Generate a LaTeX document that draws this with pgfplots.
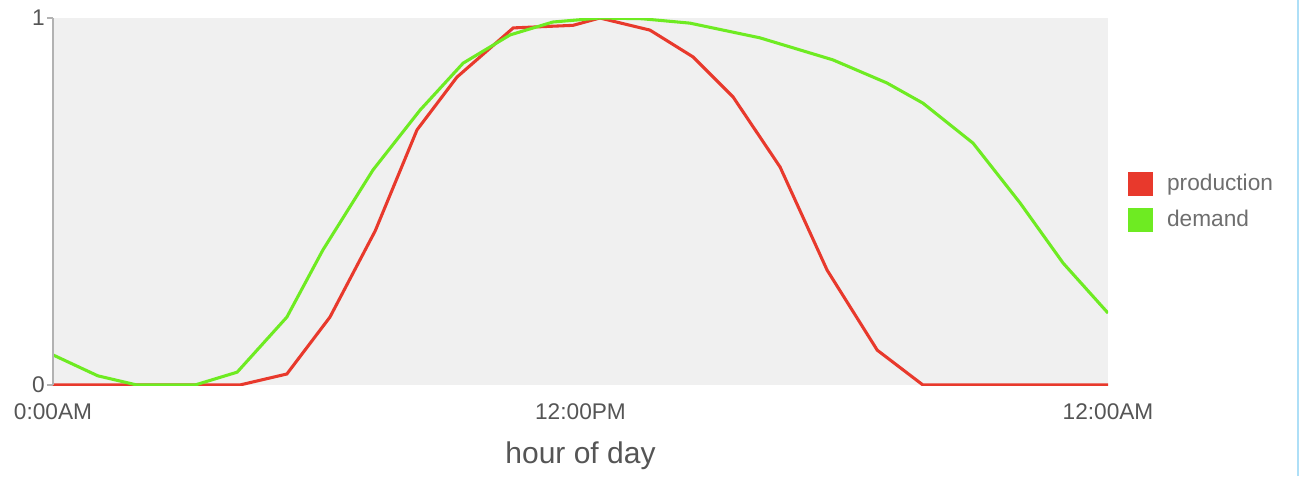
\documentclass[border=0pt]{standalone}
\usepackage{fontspec}
\setmainfont{Liberation Sans}
\usepackage{pgfplots}
\pgfplotsset{compat=1.18}
\definecolor{prodred}{HTML}{E8392C}
\definecolor{demgreen}{HTML}{6EEB22}
\definecolor{plotbg}{HTML}{F0F0F0}
\definecolor{txtgray}{HTML}{555555}
\definecolor{edgeblue}{HTML}{AEDFF7}

\begin{document}
\begin{tikzpicture}[x=0.75pt,y=0.75pt]
\useasboundingbox (-53,-91) rectangle (1246,385);
\begin{axis}[
  name=ax,
  at={(0,0)}, anchor=south west,
  scale only axis,
  width=791.25pt, height=275.25pt,
  xmin=0, xmax=24, ymin=0, ymax=1,
  axis background/.style={fill=plotbg},
  axis line style={draw=none},
  xtick={0,12,24},
  xticklabels={0:00AM,12:00PM,12:00AM},
  x tick style={draw=none},
  ytick={0,1},
  yticklabels={0,1},
  ytick pos=left,
  y tick style={draw=gray!60, line width=1pt},
  tick align=outside,
  major tick length=4.5pt,
  tick label style={font=\fontsize{17}{19}\selectfont, text=txtgray},
  /pgf/number format/assume math mode=true,
  xticklabel style={yshift=-6pt},
  yticklabel style={inner xsep=1.5pt},
  xlabel={hour of day},
  xlabel style={font=\fontsize{22.5}{25}\selectfont, text=txtgray,
    at={(rel axis cs:0.5,0)}, anchor=base, yshift=-59pt},
  legend style={draw=none, fill=none, inner sep=0pt,
    at={(rel axis cs:1,0.5)}, anchor=west, xshift=15pt,
    font=\fontsize{17}{19}\selectfont, text=txtgray!85,
    row sep=9pt,
    nodes={inner xsep=0pt, inner ysep=1pt}},
  legend cell align=left,
  legend image code/.code={\fill[#1, draw=none] (0pt,-9pt) rectangle (18.5pt,9pt); \path (28pt,0pt);},
  clip=true,
]
\addplot[color=prodred, line width=2.3pt] table[x=h, y=v] {
h      v
0      0
4.25   0
5.32   0.03
6.30   0.185
7.33   0.42
8.28   0.695
9.19   0.839
10.47  0.973
11.83  0.98
12.44  1.0
13.58  0.967
14.56  0.894
15.47  0.785
16.54  0.594
17.61  0.313
18.75  0.095
19.79  0
24     0
};
\addlegendentry{production}
\addplot[color=demgreen, line width=2.3pt] table[x=h, y=v] {
h      v
0      0.082
1.02   0.025
1.91   0
3.23   0
4.19   0.035
5.32   0.185
6.14   0.368
7.28   0.586
8.35   0.749
9.33   0.877
10.40  0.954
11.37  0.989
12.44  1.0
13.40  0.998
14.49  0.986
16.08  0.946
17.74  0.886
18.97  0.823
19.79  0.768
20.93  0.659
22.00  0.496
22.98  0.332
24     0.196
};
\addlegendentry{demand}
\end{axis}
\draw[gray!60, line width=1.5pt] (ax.south west) -- (ax.north west);
\draw[edgeblue, line width=1.5pt] (1244.5,-91) -- (1244.5,385);
\end{tikzpicture}
\end{document}
